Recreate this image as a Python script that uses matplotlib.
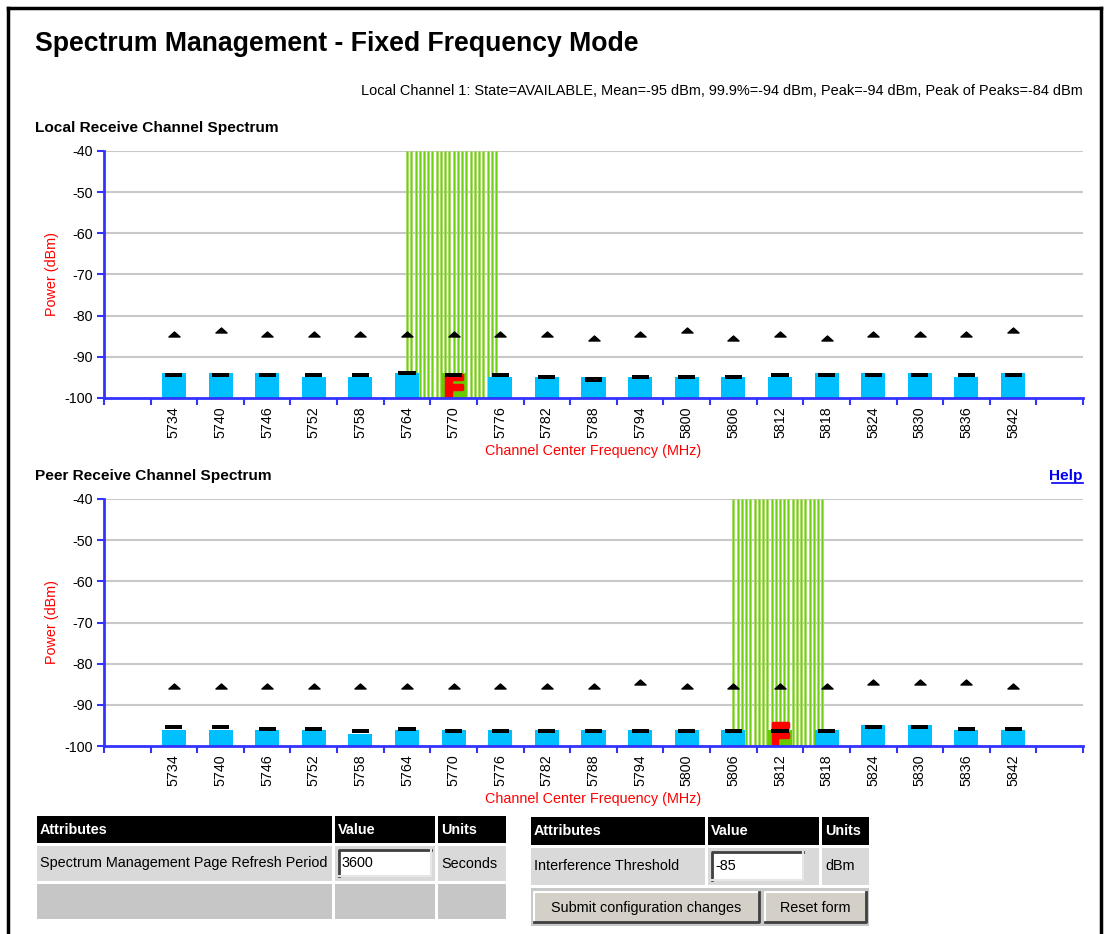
import numpy as np
import matplotlib
matplotlib.use("Agg")
import matplotlib.pyplot as plt
import matplotlib.patheffects as pe
from matplotlib.patches import Rectangle
from matplotlib.path import Path

plt.rcParams['font.family'] = ['Liberation Sans', 'DejaVu Sans']

# channel centre frequencies (MHz)
channels = [5734, 5740, 5746, 5752, 5758, 5764, 5770, 5776, 5782, 5788,
            5794, 5800, 5806, 5812, 5818, 5824, 5830, 5836, 5842]

# local receive channel: mean, 99.9% and peak of peaks (dBm)
local_mean = [-94, -94, -94, -95, -95, -94, -94, -95, -95, -95,
              -95, -95, -95, -95, -94, -94, -94, -95, -94]
local_p999 = [-94.5, -94.5, -94.5, -94.5, -94.5, -94.0, -94.5, -94.5, -95.0, -95.5,
              -95.0, -95.0, -95.0, -94.5, -94.5, -94.5, -94.5, -94.5, -94.5]
local_peak = [-84.5, -83.6, -84.5, -84.5, -84.5, -84.5, -84.5, -84.5, -84.5, -85.5,
              -84.5, -83.6, -85.5, -84.5, -85.5, -84.5, -84.5, -84.5, -83.6]
local_active = 5770

# peer receive channel
peer_mean = [-96, -96, -96, -96, -97, -96, -96, -96, -96, -96,
             -96, -96, -96, -96, -96, -95, -95, -96, -96]
peer_p999 = [-95.3, -95.3, -95.9, -95.9, -96.4, -95.9, -96.4, -96.4, -96.4, -96.4,
             -96.4, -96.4, -96.4, -96.4, -96.4, -95.3, -95.3, -95.9, -95.9]
peer_peak = [-85.5, -85.5, -85.5, -85.5, -85.5, -85.5, -85.5, -85.5, -85.5, -85.5,
             -84.5, -85.5, -85.5, -85.5, -85.5, -84.5, -84.5, -84.5, -85.5]
peer_active = 5812

status_text = ("Local Channel 1: State=AVAILABLE, Mean=-95 dBm, 99.9%=-94 dBm, "
               "Peak=-94 dBm, Peak of Peaks=-84 dBm")

W, H = 1110, 934
BLUE = '#3333ff'
BAR = '#00bfff'
GREEN = '#66cc00'
RED = '#ff0000'
FS = 10.4

fig = plt.figure(figsize=(W / 100, H / 100), dpi=100)
fig.patch.set_facecolor('white')

# page layer in pixel coordinates
page = fig.add_axes([0, 0, 1, 1], zorder=0)
page.set_xlim(0, W)
page.set_ylim(H, 0)
page.axis('off')

# page frame
page.plot([8, 8], [8, H], color='black', lw=2.5)
page.plot([8, 1101], [8, 8], color='black', lw=2.5)
page.plot([1101, 1101], [8, H], color='black', lw=2.5)

page.text(35, 44, "Spectrum Management - Fixed Frequency Mode", fontsize=19.2,
          fontweight='bold', va='center', ha='left')
page.text(1083, 91, status_text, fontsize=10.45, va='center', ha='right')
page.text(35, 128, "Local Receive Channel Spectrum", fontsize=11.1,
          fontweight='bold', va='center', ha='left')
page.text(35, 476, "Peer Receive Channel Spectrum", fontsize=11.1,
          fontweight='bold', va='center', ha='left')
page.text(1083, 476, "Help", fontsize=11.1, fontweight='bold', color='#0000ee',
          va='center', ha='right')
page.plot([1052, 1083], [483, 483], color='#0000ee', lw=1.2)

# flat triangle marker for peaks
tri = Path([(-1, -0.45), (1, -0.45), (0, 0.45), (-1, -0.45)],
           [Path.MOVETO, Path.LINETO, Path.LINETO, Path.CLOSEPOLY])


def spectrum(top_px, mean, p999, peak, active):
    ax = fig.add_axes([104 / W, 1 - (top_px + 247) / H, 979 / W, 247 / H], zorder=2)
    ax.set_facecolor('none')
    ch = np.array(channels)
    ax.set_xlim(5725, 5851)
    ax.set_ylim(-100, -40)

    # grid
    for g in range(-90, -30, 10):
        ax.axhline(g, color='#c8c8c8', lw=1.5, zorder=0)

    # active channel band
    for xv in np.linspace(active - 6, active + 6, 23)[:-1]:
        ax.plot([xv, xv], [-100, -40], color='#a4dc5c', lw=2.0, zorder=1,
                solid_capstyle='butt')
        ax.plot([xv, xv], [-100, -40], color='#6fcf12', lw=0.8, zorder=1,
                solid_capstyle='butt')

    colors = [GREEN if c == active else BAR for c in channels]
    ax.bar(ch, np.array(mean) + 100, bottom=-100, width=3.1, color=colors, zorder=2)

    # fixed frequency marker
    ax.text(active, -99.6, "F", color=RED, fontsize=22, fontweight='bold',
            ha='center', va='baseline', zorder=3, clip_on=False,
            path_effects=[pe.withStroke(linewidth=2.5, foreground=RED)])

    ax.bar(ch, 1.0, bottom=np.array(p999) - 0.5, width=2.2, color='black', zorder=4)
    ax.plot(ch, peak, linestyle='none', marker=tri, markersize=8,
            color='black', zorder=5)

    for s in ['top', 'right']:
        ax.spines[s].set_visible(False)
    for s in ['left', 'bottom']:
        ax.spines[s].set_color(BLUE)
        ax.spines[s].set_linewidth(2)
        ax.spines[s].set_zorder(6)
    ax.set_yticks(range(-100, -30, 10))
    ax.set_yticklabels([str(v) for v in range(-100, -30, 10)])
    ax.set_xticks(ch)
    ax.set_xticklabels([str(c) for c in channels], rotation=90)
    ax.set_xticks(np.arange(5725, 5852, 6), minor=True)
    ax.tick_params(axis='x', which='major', length=0, pad=6, labelsize=10.3)
    ax.tick_params(axis='x', which='minor', length=5, width=1.5, color=BLUE,
                   direction='out')
    ax.tick_params(axis='y', length=5, width=1.5, color=BLUE, labelsize=10.3, pad=3)
    ax.set_ylabel("Power (dBm)", color=RED, fontsize=FS, labelpad=4)
    ax.set_xlabel("Channel Center Frequency (MHz)", color=RED, fontsize=FS,
                  labelpad=4)
    return ax


spectrum(151, local_mean, local_p999, local_peak, local_active)
spectrum(499, peer_mean, peer_p999, peer_peak, peer_active)


def cell(x0, y0, x1, y1, fc):
    page.add_patch(Rectangle((x0, y0), x1 - x0, y1 - y0, facecolor=fc,
                             edgecolor='none', zorder=1))


def inset_box(x0, y0, x1, y1, text):
    cell(x0, y0, x1, y1, 'white')
    page.plot([x0, x0, x1], [y1, y0, y0], color='#404040', lw=2, zorder=2)
    page.plot([x0, x1, x1], [y1, y1, y0], color='#e6e6e6', lw=1.5, zorder=2)
    page.text(x0 + 3, (y0 + y1) / 2, text, fontsize=FS, va='center', zorder=3)


def button(x0, y0, x1, y1, text):
    cell(x0, y0, x1, y1, '#d4d0c8')
    page.plot([x0, x0, x1], [y1, y0, y0], color='white', lw=1.5, zorder=2)
    page.plot([x0, x1, x1], [y1, y1, y0], color='#404040', lw=2, zorder=2)
    page.text((x0 + x1) / 2, (y0 + y1) / 2 + 1, text, fontsize=FS,
              ha='center', va='center', zorder=3)


def header(cols, y0, y1):
    for x0, x1, label in cols:
        cell(x0, y0, x1, y1, 'black')
        page.text(x0 + 3, (y0 + y1) / 2, label, color='white', fontsize=FS,
                  fontweight='bold', va='center', zorder=3)


# refresh period table
header([(37, 332, "Attributes"), (335, 435, "Value"), (438, 506, "Units")], 816, 843)
cell(37, 846, 332, 881, '#d9d9d9')
cell(335, 846, 435, 881, '#d9d9d9')
cell(438, 846, 506, 881, '#d9d9d9')
page.text(40, 863.5, "Spectrum Management Page Refresh Period", fontsize=FS, va='center', zorder=3)
inset_box(339, 850, 431, 876, "3600")
page.text(441, 863.5, "Seconds", fontsize=FS, va='center', zorder=3)
cell(37, 884, 332, 919, '#c6c6c6')
cell(335, 884, 435, 919, '#c6c6c6')
cell(438, 884, 506, 919, '#c6c6c6')

# interference threshold table
header([(531, 705, "Attributes"), (708, 819, "Value"), (822, 869, "Units")], 817, 845)
cell(531, 848, 705, 885, '#d9d9d9')
cell(708, 848, 819, 885, '#d9d9d9')
cell(822, 848, 869, 885, '#d9d9d9')
page.text(534, 866, "Interference Threshold", fontsize=FS, va='center', zorder=3)
inset_box(712, 852, 803, 880, "-85")
page.text(825, 866, "dBm", fontsize=FS, va='center', zorder=3)
cell(531, 888, 869, 926, '#c8c8c8')
button(534, 892, 759, 922, "Submit configuration changes")
button(765, 892, 866, 922, "Reset form")

fig.savefig("out.png", dpi=100)
